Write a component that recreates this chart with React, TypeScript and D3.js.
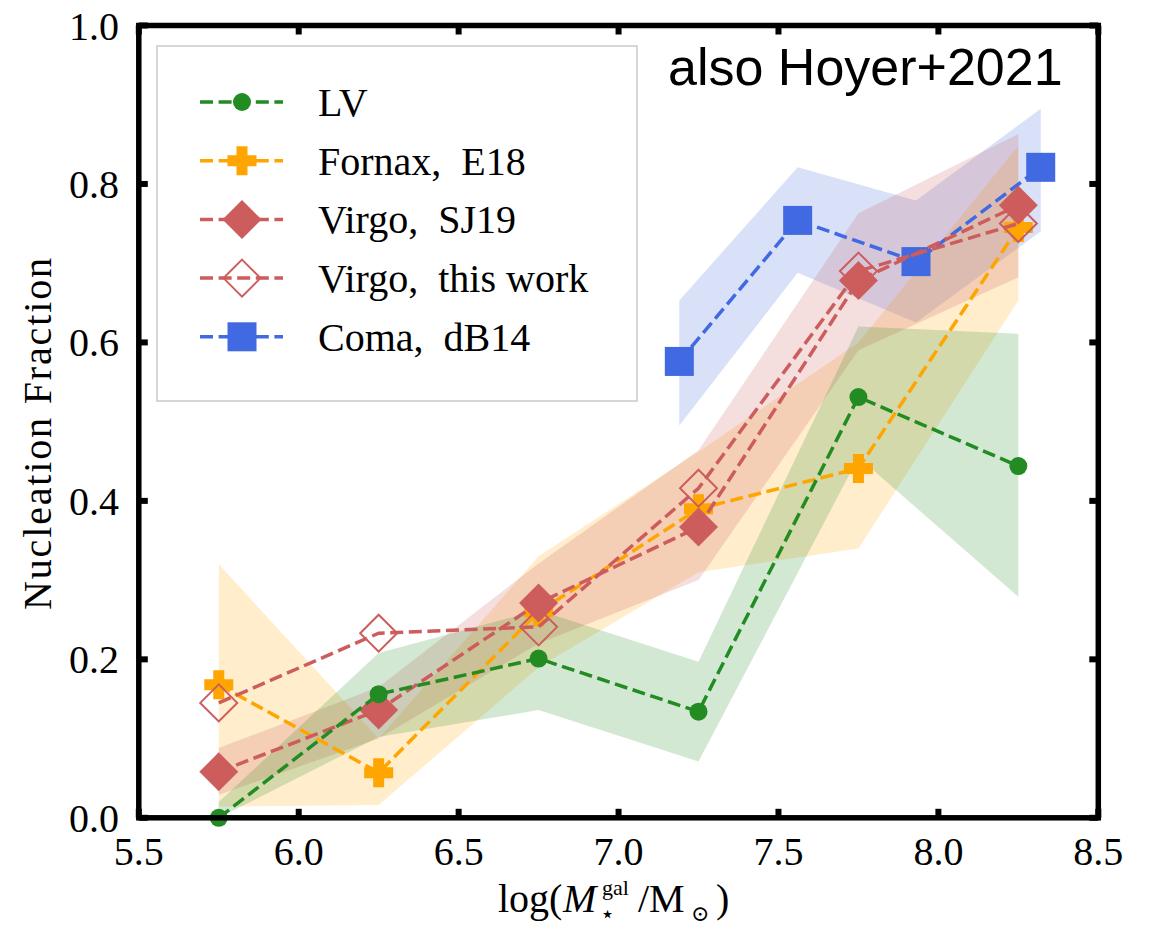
import React from "react";
import * as d3 from "d3";

// Stellar mass bins (log M*/Msun) shared by LV, Fornax and Virgo
const massBins = [5.75, 6.25, 6.75, 7.25, 7.75, 8.25];

// Local Volume
const lvFrac = [0.0, 0.156, 0.201, 0.134, 0.531, 0.444];
const lvLo = [0.0, 0.102, 0.136, 0.071, 0.455, 0.279];
const lvHi = [0.02, 0.208, 0.262, 0.197, 0.62, 0.611];

// Fornax, Eigenthaler+2018
const fornaxFrac = [0.168, 0.057, 0.26, 0.39, 0.441, 0.745];
const fornaxLo = [0.014, 0.016, 0.19, 0.31, 0.34, 0.653];
const fornaxHi = [0.32, 0.1, 0.33, 0.462, 0.6, 0.848];

// Virgo, Sánchez-Janssen+2019
const sj19Frac = [0.058, 0.136, 0.271, 0.367, 0.678, 0.773];
const sj19Lo = [0.029, 0.1, 0.22, 0.3, 0.59, 0.682];
const sj19Hi = [0.088, 0.165, 0.321, 0.464, 0.763, 0.863];

// Virgo, this work
const thisWorkFrac = [0.145, 0.233, 0.241, 0.416, 0.69, 0.75];

// Coma, den Brok+2014
const comaMass = [7.19, 7.56, 7.93, 8.32];
const comaFrac = [0.576, 0.754, 0.702, 0.821];
const comaLo = [0.495, 0.688, 0.625, 0.74];
const comaHi = [0.653, 0.821, 0.779, 0.895];

const xTicks = [5.5, 6.0, 6.5, 7.0, 7.5, 8.0, 8.5];
const yTicks = [0.0, 0.2, 0.4, 0.6, 0.8, 1.0];

const legendLabels = ["LV", "Fornax,  E18", "Virgo,  SJ19", "Virgo,  this work", "Coma,  dB14"];

const GREEN = "#228B22";
const ORANGE = "#FFA500";
const RED = "#CD5C5C";
const BLUE = "#4169E1";

const SERIF = "'Liberation Serif', 'DejaVu Serif', serif";
const SANS = "'Liberation Sans', Arial, sans-serif";

const W = 1154;
const H = 931;

const x = d3.scaleLinear().domain([5.5, 8.5]).range([138.8, 1098.3]);
const y = d3.scaleLinear().domain([0, 1]).range([817.8, 25.5]);

type Pt = { m: number; v: number; lo?: number; hi?: number };

const zip = (ms: number[], vs: number[], lo?: number[], hi?: number[]): Pt[] =>
  ms.map((m, i) => ({ m, v: vs[i], lo: lo ? lo[i] : undefined, hi: hi ? hi[i] : undefined }));

const lineGen = d3
  .line<Pt>()
  .x((d) => x(d.m))
  .y((d) => y(d.v));

const bandGen = d3
  .area<Pt>()
  .x((d) => x(d.m))
  .y0((d) => y(d.lo as number))
  .y1((d) => y(d.hi as number));

const DASH = "13,5.6";
const LW = 3.5;

type MarkerKind = "circle" | "plus" | "diamond" | "openDiamond" | "square";

function Marker({ kind, cx, cy, color }: { kind: MarkerKind; cx: number; cy: number; color: string }) {
  if (kind === "circle") return <circle cx={cx} cy={cy} r={9} fill={color} />;
  if (kind === "square") return <rect x={cx - 14.5} y={cy - 14.5} width={29} height={29} fill={color} />;
  if (kind === "plus") {
    const a = 14.5;
    const t = 5.5;
    const p = `M${cx - t},${cy - a}H${cx + t}V${cy - t}H${cx + a}V${cy + t}H${cx + t}V${cy + a}H${cx - t}V${cy + t}H${cx - a}V${cy - t}H${cx - t}Z`;
    return <path d={p} fill={color} />;
  }
  const r = kind === "diamond" ? 19.5 : 18.5;
  const p = `M${cx},${cy - r}L${cx + r},${cy}L${cx},${cy + r}L${cx - r},${cy}Z`;
  if (kind === "diamond") return <path d={p} fill={color} />;
  return <path d={p} fill="none" stroke={color} strokeWidth={2} />;
}

function Series({ pts, color, kind }: { pts: Pt[]; color: string; kind: MarkerKind }) {
  return (
    <g>
      <path d={lineGen(pts) || ""} fill="none" stroke={color} strokeWidth={LW} strokeDasharray={DASH} />
      {pts.map((d, i) => (
        <Marker key={i} kind={kind} cx={x(d.m)} cy={y(d.v)} color={color} />
      ))}
    </g>
  );
}

export default function App() {
  const lv = zip(massBins, lvFrac, lvLo, lvHi);
  const fornax = zip(massBins, fornaxFrac, fornaxLo, fornaxHi);
  const sj19 = zip(massBins, sj19Frac, sj19Lo, sj19Hi);
  const thisWork = zip(massBins, thisWorkFrac);
  const coma = zip(comaMass, comaFrac, comaLo, comaHi);

  const [x0, x1] = x.range();
  const [y0, y1] = y.range();
  const spineW = 5.5;
  const tickLen = 9;
  const tickW = 6;

  const legendItems: { label: string; color: string; kind: MarkerKind }[] = [
    { label: legendLabels[0], color: GREEN, kind: "circle" },
    { label: legendLabels[1], color: ORANGE, kind: "plus" },
    { label: legendLabels[2], color: RED, kind: "diamond" },
    { label: legendLabels[3], color: RED, kind: "openDiamond" },
    { label: legendLabels[4], color: BLUE, kind: "square" },
  ];

  return (
    <svg
      width={W}
      height={H}
      viewBox={`0 0 ${W} ${H}`}
      style={{ position: "absolute", left: 0, top: 0, background: "#fff" }}
    >
      <rect x={0} y={0} width={W} height={H} fill="#fff" />

      {/* uncertainty bands */}
      <g>
        <path d={bandGen(coma) || ""} fill={BLUE} fillOpacity={0.2} />
        <path d={bandGen(fornax) || ""} fill={ORANGE} fillOpacity={0.2} />
        <path d={bandGen(sj19) || ""} fill={RED} fillOpacity={0.2} />
        <path d={bandGen(lv) || ""} fill={GREEN} fillOpacity={0.2} />
      </g>

      {/* dashed lines with markers */}
      <Series pts={coma} color={BLUE} kind="square" />
      <Series pts={fornax} color={ORANGE} kind="plus" />
      <Series pts={sj19} color={RED} kind="diamond" />
      <Series pts={thisWork} color={RED} kind="openDiamond" />
      <Series pts={lv} color={GREEN} kind="circle" />

      {/* ticks on all four sides, pointing inward */}
      <g fill="#000">
        {xTicks.map((t) => (
          <g key={"xt" + t}>
            <rect x={x(t) - tickW / 2} y={y0 - tickLen} width={tickW} height={tickLen} />
            <rect x={x(t) - tickW / 2} y={y1} width={tickW} height={tickLen} />
          </g>
        ))}
        {yTicks.map((t) => (
          <g key={"yt" + t}>
            <rect x={x0} y={y(t) - tickW / 2} width={tickLen} height={tickW} />
            <rect x={x1 - tickLen} y={y(t) - tickW / 2} width={tickLen} height={tickW} />
          </g>
        ))}
      </g>

      {/* frame */}
      <rect
        x={x0}
        y={y1}
        width={x1 - x0}
        height={y0 - y1}
        fill="none"
        stroke="#000"
        strokeWidth={spineW}
        strokeLinejoin="miter"
      />

      {/* tick labels */}
      <g fontFamily={SERIF} fontSize={40} fill="#000">
        {xTicks.map((t) => (
          <text key={"xl" + t} x={x(t)} y={865} textAnchor="middle">
            {d3.format(".1f")(t)}
          </text>
        ))}
        {yTicks.map((t) => (
          <text key={"yl" + t} x={119} y={y(t) + 14} textAnchor="end">
            {d3.format(".1f")(t)}
          </text>
        ))}
      </g>

      {/* axis titles */}
      <text
        transform={`translate(51, 434) rotate(-90)`}
        textAnchor="middle"
        fontFamily={SERIF}
        fontSize={40}
        fill="#000"
        textLength={352}
        lengthAdjust="spacing"
      >
        Nucleation Fraction
      </text>

      <g fontFamily={SERIF} fill="#000">
        <text x={498} y={912} fontSize={40}>
          log(
        </text>
        <text x={563} y={912} fontSize={40} fontStyle="italic">
          M
        </text>
        <text x={602} y={895} fontSize={22}>
          gal
        </text>
        <text x={600} y={922} fontSize={24}>
          ⋆
        </text>
        <text x={638} y={912} fontSize={40}>
          /M
        </text>
        <text x={691} y={921} fontSize={22}>
          ⊙
        </text>
        <text x={716} y={912} fontSize={40}>
          )
        </text>
      </g>

      {/* legend */}
      <g>
        <rect x={157} y={46} width={480} height={355} fill="#fff" fillOpacity={0.8} stroke="#cccccc" strokeWidth={1.6} />
        {legendItems.map((it, i) => {
          const cy = 102 + i * 58.7;
          return (
            <g key={it.label}>
              <line x1={200} x2={283} y1={cy} y2={cy} stroke={it.color} strokeWidth={LW} strokeDasharray={DASH} />
              <Marker kind={it.kind} cx={242} cy={cy} color={it.color} />
              <text x={318} y={cy + 14} fontFamily={SERIF} fontSize={40} fill="#000" style={{ whiteSpace: "pre" }}>
                {it.label}
              </text>
            </g>
          );
        })}
      </g>

      {/* annotation */}
      <text x={668} y={85} fontFamily={SANS} fontSize={52} fill="#000">
        also Hoyer+2021
      </text>
    </svg>
  );
}
